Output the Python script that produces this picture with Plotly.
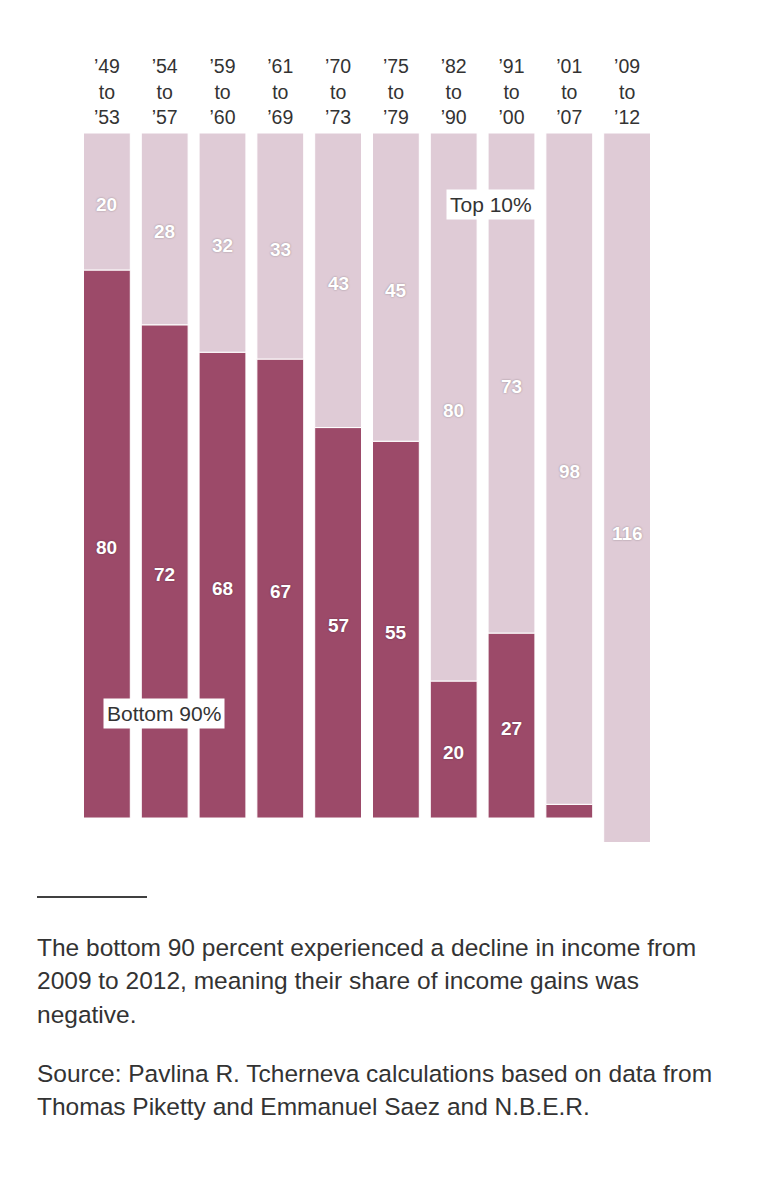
import plotly.graph_objects as go

categories = ["’49<br>to<br>’53", "’54<br>to<br>’57", "’59<br>to<br>’60", "’61<br>to<br>’69",
              "’70<br>to<br>’73", "’75<br>to<br>’79", "’82<br>to<br>’90", "’91<br>to<br>’00",
              "’01<br>to<br>’07", "’09<br>to<br>’12"]
bottom90 = [80, 72, 68, 67, 57, 55, 20, 27, 2, -16]
top10 = [20, 28, 32, 33, 43, 45, 80, 73, 98, 116]
bottom_labels = ["80", "72", "68", "67", "57", "55", "20", "27", "", ""]
top_labels = ["20", "28", "32", "33", "43", "45", "80", "73", "98", "116"]

DARK = "#9c4a69"
LIGHT = "#dfcbd6"
FONT = "Liberation Sans"
TXT = "#333333"

x = list(range(len(categories)))

fig = go.Figure()
fig.add_trace(go.Bar(
    x=x, y=[max(b, 0) for b in bottom90], marker=dict(color=DARK, line=dict(color="white", width=1)),
    hoverinfo="skip", showlegend=False))
fig.add_trace(go.Bar(
    x=x, y=top10, base=bottom90,
    marker=dict(color=LIGHT, line=dict(color="white", width=1)),
    hoverinfo="skip", showlegend=False))

fig.update_layout(barmode="overlay")

VAL_FONT = dict(family=FONT, size=19, color="white", weight="bold",
                shadow="0px 0px 2px rgba(0,0,0,0.35)")
ann = []
for i in x:
    b, t = bottom90[i], top10[i]
    if bottom_labels[i]:
        ann.append(dict(x=i, y=b / 2, text=bottom_labels[i], showarrow=False, yshift=-3, font=VAL_FONT))
    ann.append(dict(x=i, y=b + t / 2, text=top_labels[i], showarrow=False, yshift=-3, font=VAL_FONT))

ann.append(dict(x=6.64, y=89.5, text="Top 10%", showarrow=False, bgcolor="white", borderpad=3,
                font=dict(family=FONT, size=21, color=TXT)))
ann.append(dict(x=0.98, y=15.3, text="Bottom 90%", showarrow=False, bgcolor="white", borderpad=3,
                font=dict(family=FONT, size=21, color=TXT)))

OFF = 8  # page body margin
W, H = 752, 1191
L = 78 - OFF
T = 133 - OFF
R = W - (656 - OFF)
B = H - (842 - OFF)
pw, ph = W - L - R, H - T - B

def px_x(p):
    return (p - OFF - L) / pw

def px_y(p):
    return (H - B - (p - OFF)) / ph

notes = [
    ("The bottom 90 percent experienced a decline in income from", 947),
    ("2009 to 2012, meaning their share of income gains was", 981),
    ("negative.", 1014),
    ("Source: Pavlina R. Tcherneva calculations based on data from", 1073),
    ("Thomas Piketty and Emmanuel Saez and N.B.E.R.", 1106),
]
for txt, yc in notes:
    ann.append(dict(xref="paper", yref="paper", x=px_x(35), y=px_y(yc), xanchor="left", yanchor="middle",
                    text=txt, showarrow=False, align="left",
                    font=dict(family=FONT, size=24.5, color=TXT)))

fig.update_layout(
    annotations=ann,
    shapes=[dict(type="line", xref="paper", yref="paper", x0=px_x(37), x1=px_x(147),
                 y0=px_y(897), y1=px_y(897), line=dict(color="black", width=1.5))],
    width=W, height=H,
    margin=dict(l=L, r=R, t=T, b=B, pad=0),
    paper_bgcolor="white", plot_bgcolor="white",
    bargap=0.19,
    xaxis=dict(side="top", tickmode="array", tickvals=x, ticktext=categories,
               showgrid=False, zeroline=False, showline=False, ticks="",
               range=[-0.5, len(categories) - 0.5], ticklabelstandoff=4,
               tickfont=dict(family=FONT, size=19.5, color=TXT)),
    yaxis=dict(range=[-3.5, 100], showgrid=False, zeroline=False, showline=False,
               showticklabels=False, ticks=""),
)

fig.write_html("out.html")
